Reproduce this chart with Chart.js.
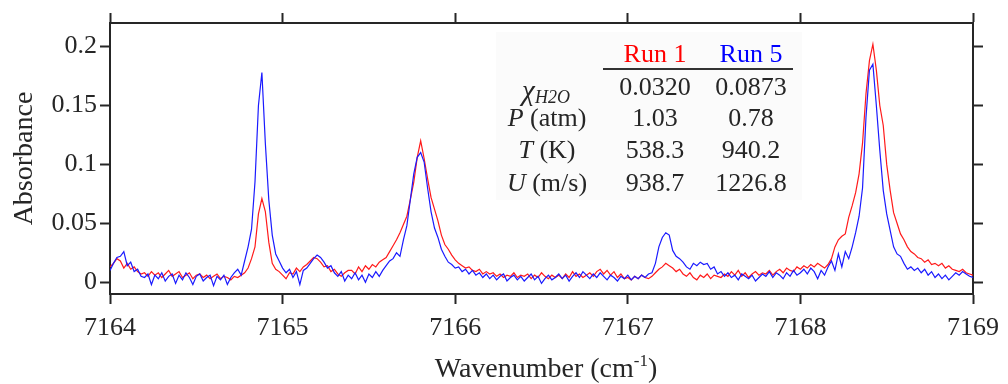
<!DOCTYPE html>
<html>
<head>
<meta charset="utf-8">
<script src="https://cdn.jsdelivr.net/npm/chart.js@4.4.1/dist/chart.umd.min.js"></script>
<style>
  body { margin: 0; background: #fff; }
  #wrap { position: relative; width: 1008px; height: 384px; font-family: "Liberation Serif", "Times New Roman", serif; color: #262626; }
  #wrap canvas { position: absolute; left: 0; top: 0; }
  .t { position: absolute; font-size: 26px; line-height: 26px; white-space: nowrap; transform: translateX(-50%); }
  .i { font-style: italic; }
  #box { position: absolute; left: 496px; top: 32px; width: 306px; height: 168px; background: rgba(0,0,0,0.015); }
  #rule { position: absolute; left: 603px; top: 68px; width: 190px; height: 2px; background: #333; }
  #xtitle { position: absolute; left: 546px; top: 354px; font-size: 28px; line-height: 28px; transform: translateX(-50%); white-space: nowrap; }
  #xtitle sup { font-size: 17px; vertical-align: 11px; line-height: 0; }
</style>
</head>
<body>
<div id="wrap">
  <canvas id="espectro" width="1008" height="384"></canvas>
  <div id="box"></div>
  <div class="t" style="left:655px;top:41px;color:#ff0000">Run 1</div>
  <div class="t" style="left:751px;top:41px;color:#0000ff">Run 5</div>
  <div id="rule"></div>
  <div class="t" style="left:546px;top:77px"><span class="i" style="font-size:29px">χ</span><span class="i" style="font-size:18px;vertical-align:-3px">H2O</span></div>
  <div class="t" style="left:547px;top:105px"><span class="i">P</span> (atm)</div>
  <div class="t" style="left:547px;top:137px"><span class="i">T</span> (K)</div>
  <div class="t" style="left:547px;top:170px"><span class="i">U</span> (m/s)</div>
  <div class="t" style="left:655px;top:74px">0.0320</div>
  <div class="t" style="left:751px;top:74px">0.0873</div>
  <div class="t" style="left:655px;top:105px">1.03</div>
  <div class="t" style="left:751px;top:105px">0.78</div>
  <div class="t" style="left:655px;top:137px">538.3</div>
  <div class="t" style="left:751px;top:137px">940.2</div>
  <div class="t" style="left:655px;top:170px">938.7</div>
  <div class="t" style="left:751px;top:170px">1226.8</div>
  <div id="xtitle">Wavenumber (cm<sup>-1</sup>)</div>
</div>
<script>
// eje x: malla de numero de onda, paso 0.02 cm-1 (7164 a 7169)
const inicioOnda = 7164;
const pasoOnda = 0.02;

// absorbancia Run 1 (rojo), una fila = 0.2 cm-1
const run1 = [
  0.013, 0.016, 0.020, 0.018, 0.012, 0.016, 0.011, 0.013, 0.009, 0.007,
  0.008, 0.005, 0.009, 0.006, 0.008, 0.004, 0.007, 0.010, 0.005, 0.007,
  0.009, 0.004, 0.006, 0.008, 0.003, 0.006, 0.007, 0.004, 0.006, 0.003,
  0.005, 0.007, 0.003, 0.005, 0.004, 0.002, 0.005, 0.004, 0.006, 0.008,
  0.012, 0.020, 0.030, 0.058, 0.071, 0.060, 0.034, 0.016, 0.011, 0.009,
  0.006, 0.003, 0.008, 0.007, 0.012, 0.009, 0.013, 0.015, 0.018, 0.021,
  0.020, 0.017, 0.013, 0.014, 0.009, 0.011, 0.007, 0.005, 0.008, 0.010,
  0.010, 0.007, 0.013, 0.009, 0.014, 0.011, 0.015, 0.013, 0.017, 0.019,
  0.021, 0.026, 0.031, 0.036, 0.042, 0.049, 0.056, 0.070, 0.085, 0.106,
  0.120, 0.105, 0.088, 0.072, 0.062, 0.052, 0.040, 0.032, 0.028, 0.023,
  0.019, 0.016, 0.014, 0.012, 0.013, 0.010, 0.009, 0.011, 0.007, 0.009,
  0.007, 0.008, 0.005, 0.007, 0.004, 0.006, 0.005, 0.008, 0.004, 0.006,
  0.005, 0.007, 0.003, 0.006, 0.004, 0.008, 0.005, 0.003, 0.006, 0.004,
  0.006, 0.003, 0.007, 0.004, 0.009, 0.005, 0.007, 0.004, 0.006, 0.008,
  0.005, 0.009, 0.011, 0.007, 0.010, 0.006, 0.009, 0.004, 0.007, 0.003,
  0.004, 0.002, 0.005, 0.003, 0.006, 0.004, 0.003, 0.005, 0.008, 0.011,
  0.013, 0.016, 0.014, 0.012, 0.009, 0.011, 0.007, 0.005, 0.008, 0.004,
  0.002, 0.006, 0.004, 0.007, 0.003, 0.006, 0.005, 0.004, 0.007, 0.005,
  0.009, 0.006, 0.010, 0.005, 0.008, 0.004, 0.007, 0.009, 0.006, 0.008,
  0.007, 0.010, 0.006, 0.009, 0.011, 0.008, 0.012, 0.010, 0.009, 0.013,
  0.011, 0.014, 0.012, 0.015, 0.013, 0.016, 0.014, 0.012, 0.015, 0.020,
  0.030, 0.036, 0.039, 0.041, 0.055, 0.065, 0.076, 0.092, 0.118, 0.160,
  0.188, 0.202, 0.180, 0.150, 0.133, 0.100, 0.078, 0.059, 0.050, 0.041,
  0.036, 0.030, 0.026, 0.024, 0.021, 0.020, 0.017, 0.019, 0.015, 0.016,
  0.014, 0.016, 0.012, 0.014, 0.011, 0.010, 0.009, 0.011, 0.008, 0.007,
  0.006
];

// absorbancia Run 5 (azul)
const run5 = [
  0.010, 0.016, 0.021, 0.022, 0.026, 0.014, 0.017, 0.009, 0.011, 0.005,
  0.004, 0.007, -0.002, 0.006, 0.003, 0.008, 0.001, 0.005, 0.007, -0.001,
  0.006, 0.002, 0.008, 0.004, -0.002, 0.005, 0.007, 0.001, 0.004, 0.006,
  -0.003, 0.005, 0.002, 0.006, -0.002, 0.004, 0.008, 0.011, 0.006, 0.018,
  0.030, 0.045, 0.085, 0.150, 0.178, 0.118, 0.070, 0.040, 0.024, 0.018,
  0.012, 0.008, 0.011, 0.004, 0.009, -0.002, 0.010, 0.012, 0.016, 0.020,
  0.023, 0.021, 0.017, 0.012, 0.014, 0.008, 0.005, 0.009, 0.001, 0.006,
  0.003, 0.008, 0.002, 0.006, 0.000, 0.007, 0.004, 0.009, 0.005, 0.010,
  0.014, 0.018, 0.020, 0.025, 0.022, 0.036, 0.048, 0.070, 0.092, 0.106,
  0.110, 0.102, 0.080, 0.060, 0.046, 0.038, 0.028, 0.022, 0.017, 0.015,
  0.012, 0.013, 0.009, 0.011, 0.007, 0.010, 0.006, 0.008, 0.004, 0.007,
  0.003, 0.006, 0.002, 0.005, 0.007, 0.001, 0.004, 0.006, 0.002, 0.005,
  0.001, 0.004, 0.007, 0.002, 0.005, -0.001, 0.003, 0.006, 0.002, 0.004,
  0.007, 0.003, 0.006, 0.001, 0.005, 0.008, 0.004, 0.009, 0.006, 0.003,
  0.007, 0.004, 0.008, 0.005, 0.002, 0.006, 0.004, 0.001, 0.005, 0.003,
  0.006, 0.002, 0.005, 0.003, 0.006, 0.004, 0.007, 0.008, 0.016, 0.030,
  0.038, 0.042, 0.040, 0.027, 0.022, 0.020, 0.017, 0.013, 0.011, 0.016,
  0.014, 0.017, 0.015, 0.016, 0.011, 0.013, 0.007, 0.009, 0.005, 0.008,
  0.004, 0.006, 0.002, 0.007, 0.005, 0.003, 0.006, 0.001, 0.004, 0.007,
  0.005, 0.009, 0.004, 0.008, 0.006, 0.003, 0.008, 0.005, 0.010, 0.006,
  0.008, 0.011, 0.007, 0.012, 0.009, 0.003, 0.010, 0.006, 0.013, 0.018,
  0.010, 0.024, 0.013, 0.026, 0.020, 0.030, 0.042, 0.056, 0.080, 0.140,
  0.180, 0.185, 0.150, 0.112, 0.078, 0.058, 0.044, 0.030, 0.024, 0.022,
  0.016, 0.011, 0.013, 0.010, 0.012, 0.008, 0.011, 0.006, 0.009, 0.004,
  0.007, 0.003, 0.006, 0.002, 0.005, 0.008, 0.006, 0.009, 0.007, 0.005,
  0.004
];

// ticks de los ejes
const xTicks = [7164, 7165, 7166, 7167, 7168, 7169];
const yTicks = [0, 0.05, 0.1, 0.15, 0.2];
const yTickLabels = ['0', '0.05', '0.1', '0.15', '0.2'];

const onda = run1.map((_, i) => +(inicioOnda + i * pasoOnda).toFixed(2));
const puntos = (serie) => serie.map((a, i) => ({ x: onda[i], y: a }));

const colorEje = '#262626';
const fuente = { family: '"Liberation Serif", "Times New Roman", serif', size: 26 };

function ejeBase(extra) {
  return Object.assign({
    type: 'linear',
    border: { display: true, color: colorEje, width: 2 },
    grid: { drawOnChartArea: false, drawTicks: true, tickLength: 10, tickColor: colorEje, tickWidth: 2 }
  }, extra);
}

(() => {
  const ctx = document.getElementById('espectro');
  window.myChart = new Chart(ctx, {
    type: 'line',
    data: {
      datasets: [
        { label: 'Run 1', data: puntos(run1), borderColor: '#ff1a1a', borderWidth: 1.2, pointRadius: 0, order: 2 },
        { label: 'Run 5', data: puntos(run5), borderColor: '#1a1aff', borderWidth: 1.2, pointRadius: 0, order: 1 }
      ]
    },
    options: {
      responsive: false,
      animation: false,
      devicePixelRatio: 1,
      layout: { padding: { top: 13, right: 18, left: 0, bottom: 0 } },
      plugins: { legend: { display: false }, tooltip: { enabled: false } },
      scales: {
        x: ejeBase({
          position: 'bottom', min: 7164, max: 7169,
          afterBuildTicks: (s) => { s.ticks = xTicks.map(v => ({ value: v })); },
          afterFit: (s) => { s.height = 90; },
          ticks: { font: fuente, color: colorEje, padding: 9, maxRotation: 0, callback: (v) => String(v) }
        }),
        x2: ejeBase({
          position: 'top', min: 7164, max: 7169,
          afterBuildTicks: (s) => { s.ticks = xTicks.map(v => ({ value: v })); },
          afterFit: (s) => { s.height = 10; },
          ticks: { display: false }
        }),
        y: ejeBase({
          position: 'left', min: -0.01, max: 0.22,
          afterBuildTicks: (s) => { s.ticks = yTicks.map(v => ({ value: v })); },
          afterFit: (s) => { s.width = 110; },
          ticks: { font: fuente, color: colorEje, padding: 3, callback: (v, i) => yTickLabels[i] },
          title: { display: true, text: 'Absorbance', color: colorEje, font: { family: fuente.family, size: 28 }, padding: { top: 8, bottom: 0 } }
        }),
        y2: ejeBase({
          position: 'right', min: -0.01, max: 0.22,
          afterBuildTicks: (s) => { s.ticks = yTicks.map(v => ({ value: v })); },
          afterFit: (s) => { s.width = 10; },
          ticks: { display: false }
        })
      }
    }
  });
})();
</script>
</body>
</html>
